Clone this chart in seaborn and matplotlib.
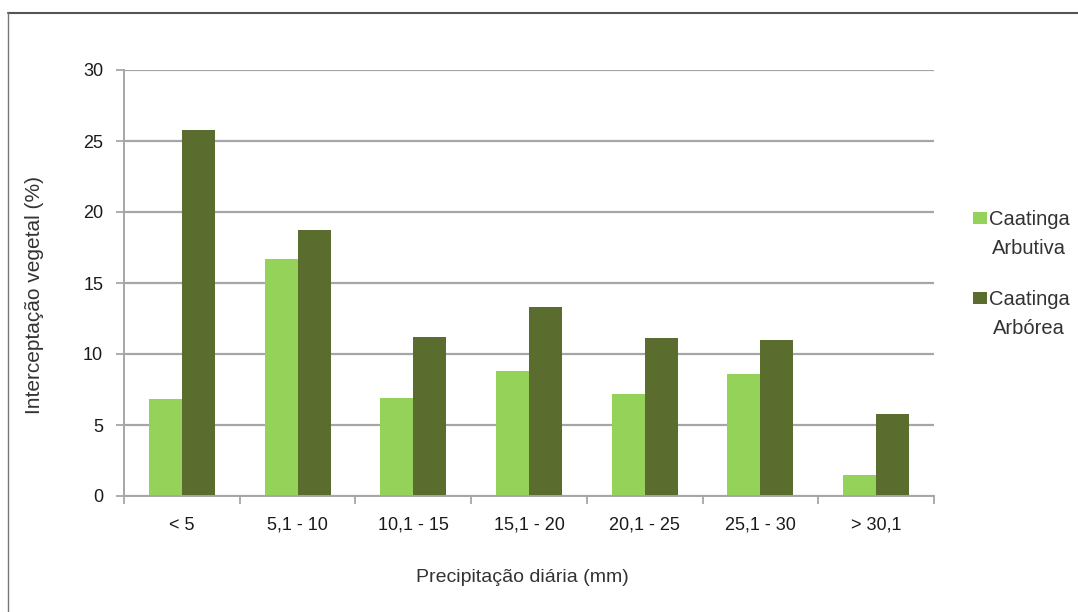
import matplotlib
matplotlib.use("Agg")
import matplotlib.pyplot as plt
from matplotlib.lines import Line2D
from matplotlib.patches import Rectangle
import seaborn as sns
import pandas as pd
import numpy as np

categories = ["< 5", "5,1 - 10", "10,1 - 15", "15,1 - 20", "20,1 - 25", "25,1 - 30", "> 30,1"]
arbutiva = [6.8, 16.7, 6.9, 8.8, 7.2, 8.6, 1.5]
arborea = [25.8, 18.7, 11.2, 13.3, 11.1, 11.0, 5.8]
series_names = ["Caatinga Arbutiva", "Caatinga Arbórea"]
legend_lines = [["Caatinga", "Arbutiva"], ["Caatinga", "Arbórea"]]
y_ticks = [0, 5, 10, 15, 20, 25, 30]

df = pd.DataFrame({
    "cat": categories * 2,
    "val": arbutiva + arborea,
    "serie": [series_names[0]] * len(categories) + [series_names[1]] * len(categories),
})

sns.set_theme(style="white")
plt.rcParams["font.family"] = ["Liberation Sans", "DejaVu Sans"]

W, H = 1078, 612
fig = plt.figure(figsize=(W / 100, H / 100), dpi=100)
ax = fig.add_axes([124 / W, 1 - 496 / H, 810 / W, 426 / H])

palette = ["#94d25a", "#5a6d2e"]
sns.barplot(data=df, x="cat", y="val", hue="serie", palette=palette,
            width=0.57, gap=0, saturation=1, ax=ax, legend=False,
            linewidth=0, edgecolor="none")

ax.set_ylim(0, 30)
ax.set_xlim(-0.5, len(categories) - 0.5)
ax.set_yticks(y_ticks)
ax.yaxis.grid(True, color="#a6a6a6", linewidth=1.6)
ax.set_axisbelow(True)

for side in ["top", "right"]:
    ax.spines[side].set_visible(False)
for side in ["left", "bottom"]:
    ax.spines[side].set_color("#a6a6a6")
    ax.spines[side].set_linewidth(1.4)

ax.tick_params(axis="y", which="major", left=True, length=6, width=1.3,
               color="#a6a6a6", labelsize=13, labelcolor="#1a1a1a", pad=9)
ax.tick_params(axis="x", which="major", bottom=False, labelsize=13,
               labelcolor="#1a1a1a", pad=9)
ax.set_xticks(np.arange(-0.5, len(categories)), minor=True)
ax.tick_params(axis="x", which="minor", bottom=True, length=6, width=1.3,
               color="#a6a6a6")

ax.set_xlabel("")
ax.set_ylabel("")
fig.text(522 / W, 1 - 578 / H, "Precipitação diária (mm)", fontsize=14,
         color="#333333", ha="center", va="center")
fig.text(35 / W, 1 - 295 / H, "Interceptação vegetal (%)", fontsize=15,
         color="#333333", ha="center", va="center", rotation=90)

# legend: colour swatch beside two centred lines of text
swatch_tops = [212, 292]
for i, (col, lines) in enumerate(zip(palette, legend_lines)):
    top = swatch_tops[i]
    fig.add_artist(Rectangle((973 / W, 1 - (top + 12) / H), 14 / W, 12 / H,
                             transform=fig.transFigure, facecolor=col,
                             edgecolor="none"))
    for j, line in enumerate(lines):
        fig.text(1029 / W, 1 - (top + 13 + 29 * j) / H, line, fontsize=14.5,
                 color="#333333", ha="center", va="baseline")

# outer frame
fig.add_artist(Line2D([8 / W, 1.0], [1 - 13 / H, 1 - 13 / H],
                      transform=fig.transFigure, color="#555555", linewidth=1.5))
fig.add_artist(Line2D([8 / W, 8 / W], [0.0, 1 - 13 / H],
                      transform=fig.transFigure, color="#777777", linewidth=1.0))

fig.savefig("out.png", dpi=100, facecolor="white")
